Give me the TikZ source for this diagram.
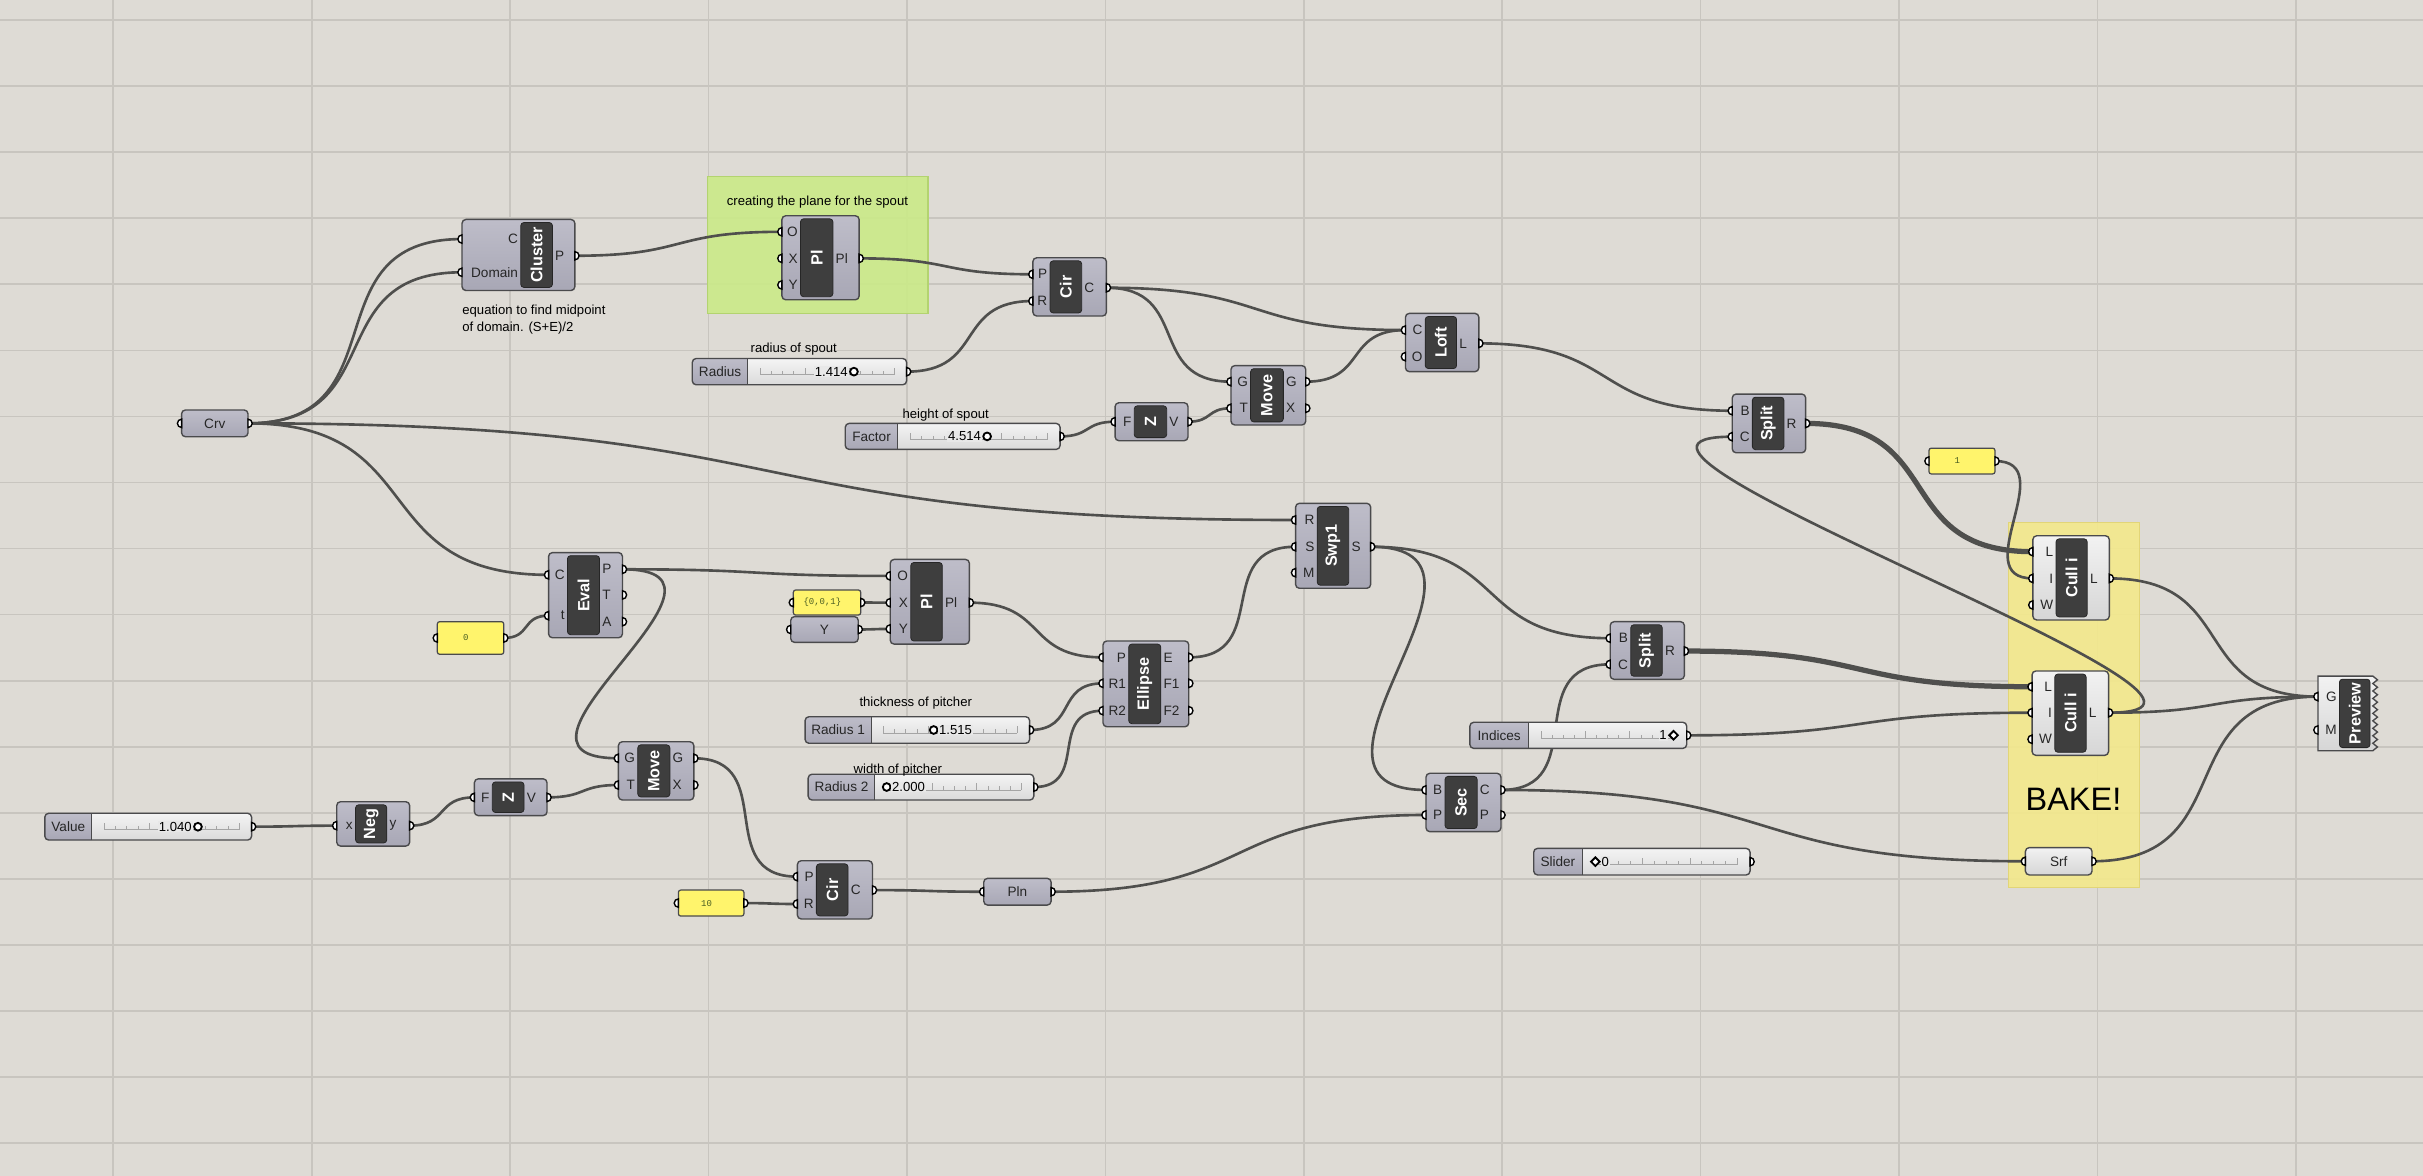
\documentclass[tikz,border=0pt]{standalone}
\usepackage{fontspec}
\setmainfont{Liberation Sans}
\newfontfamily\pmono{Liberation Mono}
\usetikzlibrary{fit}
\definecolor{canvas}{HTML}{DEDBD5}
\definecolor{gridc}{HTML}{C8C5BF}
\definecolor{compTop}{HTML}{BEBDC9}
\definecolor{compBot}{HTML}{A8A7B5}
\definecolor{compBorder}{HTML}{4A4A4C}
\definecolor{barFill}{HTML}{3E3E3E}
\definecolor{barBorder}{HTML}{262626}
\definecolor{whTop}{HTML}{F2F2F2}
\definecolor{whBot}{HTML}{D6D6D6}
\definecolor{trTop}{HTML}{F4F4F4}
\definecolor{trBot}{HTML}{DADADA}
\definecolor{trMid}{HTML}{E8E8E8}
\definecolor{panelY}{HTML}{FFF46C}
\definecolor{panelTxt}{HTML}{4A5E22}
\definecolor{grpGreen}{HTML}{CBEA88}
\definecolor{grpGreenB}{HTML}{B3D370}
\definecolor{grpYellow}{HTML}{F4E98B}
\definecolor{grpYellowB}{HTML}{E2D577}
\definecolor{wirec}{HTML}{4F4F4D}
\definecolor{tickc}{HTML}{A5A5A5}
\pgfdeclarelayer{back}
\pgfdeclarelayer{wires}
\pgfsetlayers{back,wires,main}
\newcommand\gfs[1]{\fontsize{#1}{#1}\selectfont}
% component: name, x1, y1, x2, y2, bar x1, bar x2, title, style
\newcommand\gcomp[9]{%
  \node[#9, fit={(#2,#3)(#4,#5)}] (#1) {};
  \node[gbar, fit={(#6,{#3+2})(#7,{#5-2})}] (#1-bar) {};
  \node[gttl] (#1-ttl) at (#1-bar.center) {#8};}
\newcommand\pin[4]{%
  \coordinate (#1-#2) at (#1.west |- 0,#4);
  \node[plbl, anchor=east, xshift=-1.6pt] (#1-#2-lab) at (#1-bar.west |- 0,#4) {#3};
  \gL{#1-#2}}
\newcommand\pout[4]{%
  \coordinate (#1-#2) at (#1.east |- 0,#4);
  \node[plbl, anchor=west, xshift=1.6pt] (#1-#2-lab) at (#1-bar.east |- 0,#4) {#3};
  \gR{#1-#2}}
\newcommand\gL[1]{\filldraw[grip] (#1) ++(0,-2.7) arc[start angle=270,end angle=90,radius=2.7] -- cycle;}
\newcommand\gR[1]{\filldraw[grip] (#1) ++(0,-2.7) arc[start angle=270,end angle=450,radius=2.7] -- cycle;}
\newcommand\gparam[7]{%
  \node[#7, fit={(#2,#3)(#4,#5)}] (#1) {};
  \node[plbl] (#1-txt) at (#1.center) {#6};
  \coordinate (#1-in) at (#1.west);
  \coordinate (#1-out) at (#1.east);
  \gL{#1-in}\gR{#1-out}}
\newcommand\gpanel[6]{%
  \node[gpan, fit={(#2,#3)(#4,#5)}] (#1) {};
  \node[pantxt, xshift=-3pt] (#1-txt) at (#1.center) {#6};
  \coordinate (#1-in) at (#1.west);
  \coordinate (#1-out) at (#1.east);
  \gL{#1-in}\gR{#1-out}}
\newcommand\gslider[7]{%
  \node[gtrack, fit={(#2,#3)(#4,#5)}] (#1) {};
  \begin{scope}
    \clip (#2-2,#3-2) rectangle (#6,#5+2);
    \shade[top color=compTop, bottom color=compBot, rounded corners=2.5pt] (#2,#3) rectangle (#4,#5);
  \end{scope}
  \draw[compBorder, line width=0.9pt, rounded corners=2.5pt] (#2,#3) rectangle (#4,#5);
  \draw[compBorder, line width=0.7pt] (#6,#3) -- (#6,#5);
  \node[plbl] (#1-lab) at ({(#2+#6)/2},{(#3+#5)/2}) {#7};
  \draw[tickc, line width=0.5pt] ({#6+8},{(#3+#5)/2+2}) -- ({#4-8},{(#3+#5)/2+2});
  \foreach \k in {0,...,12} {\draw[tickc, line width=0.5pt] ({#6+8+\k*(#4-#6-16)/12},{(#3+#5)/2+2}) -- ++(0,-2.5);}
  \foreach \k in {0,4,8,12} {\draw[tickc, line width=0.5pt] ({#6+8+\k*(#4-#6-16)/12},{(#3+#5)/2+2}) -- ++(0,-4.5);}
  \coordinate (#1-out) at (#1.east);
  \gR{#1-out}}
\newcommand\gdiamond[1]{\draw[mk] (#1) ++(0,-2.8) -- ++(2.8,2.8) -- ++(-2.8,2.8) -- ++(-2.8,-2.8) -- cycle;}
\begin{document}
\begin{tikzpicture}[x=1pt,y=-1pt,
  gcompS/.style={draw=compBorder, line width=0.9pt, rounded corners=2.5pt, top color=compTop, bottom color=compBot, inner sep=0pt, outer sep=0pt},
  gcompW/.style={draw=compBorder, line width=0.9pt, rounded corners=2.5pt, top color=whTop, bottom color=whBot, inner sep=0pt, outer sep=0pt},
  gbar/.style={draw=barBorder, line width=0.5pt, fill=barFill, rounded corners=2pt, inner sep=0pt, outer sep=0pt},
  gttl/.style={text=white, font=\gfs{10.5}\bfseries, rotate=90, inner sep=0pt},
  plbl/.style={font=\gfs{8.8}, text=black!85, inner sep=0pt},
  gpan/.style={draw=compBorder, line width=0.8pt, fill=panelY, rounded corners=1.5pt, inner sep=0pt, outer sep=0pt},
  pantxt/.style={font=\pmono\gfs{5.8}, text=panelTxt, inner sep=0pt},
  gtrack/.style={draw=none, top color=trTop, bottom color=trBot, rounded corners=2.5pt, inner sep=0pt, outer sep=0pt},
  grip/.style={fill=white, draw=black, line width=0.9pt},
  wire/.style={draw=wirec, line width=1.7pt, line cap=round, out=0, in=180, looseness=1.4},
  wireT/.style={wire, line width=3.4pt},
  mk/.style={draw=black, line width=1.2pt, fill=white},
  vtxt/.style={font=\gfs{8.5}, inner sep=0.5pt, fill=trMid},
  ann/.style={font=\gfs{8.5}, inner sep=0pt}]
\useasboundingbox (0,0) rectangle (1568,761);
\begin{pgfonlayer}{back}
  \fill[canvas] (0,0) rectangle (1568,761);
  \foreach \gx in {0,...,11} {\draw[gridc, line width=1.1pt] ({73.3+128.4*\gx},0) -- ({73.3+128.4*\gx},761);}
  \foreach \gy in {0,...,17} {\draw[gridc, line width=1.1pt] (0,{13+42.75*\gy}) -- (1568,{13+42.75*\gy});}
  \node[fill=grpGreen, draw=grpGreenB, line width=0.8pt, fill opacity=0.9, inner sep=0pt, outer sep=0pt, fit={(457.9,114.3)(600.5,202.8)}] (grpPlane) {};
  \node[fill=grpYellow, draw=grpYellowB, line width=0.8pt, fill opacity=0.9, inner sep=0pt, outer sep=0pt, fit={(1299.7,338)(1384.7,574.2)}] (grpBake) {};
\end{pgfonlayer}

% group texts and annotations
\node[ann] (txtPlane) at (529,130.5) {creating the plane for the spout};
\node[font=\gfs{21}, inner sep=0pt] (txtBake) at (1341.8,517) {BAKE!};
\node[ann, anchor=west] (txtEq1) at (299,201) {equation to find midpoint};
\node[ann, anchor=west] (txtEq2) at (299,212.5) {of domain. (S+E)/2};

% parameters
\gparam{crv}{117.5}{265.3}{160.5}{282.6}{Crv}{gcompS}
\gparam{ypar}{511.7}{399}{555.4}{415.7}{Y}{gcompS}
\gparam{pln}{636.6}{568.4}{680.2}{585.7}{Pln}{gcompS}
\gparam{srf}{1310.7}{548.5}{1353.8}{566.2}{Srf}{gcompW}

% panels
\gpanel{pone}{1248.3}{290}{1291}{306.7}{1}
\gpanel{pzero}{283}{402.3}{326}{423.4}{0}
\gpanel{pvec}{513.4}{381.8}{557}{398}{\{0,0,1\}}
\gpanel{pten}{439}{576}{481.4}{592.8}{10}

% sliders
\gslider{radius}{448}{232}{586.7}{249}{484}{Radius}
\node[vtxt, anchor=east] (radius-val) at (549.3,240.5) {1.414};
\draw[mk] (552.6,240.5) circle (2.5);
\node[ann] (lbl-radius) at (513.7,225.9) {radius of spout};

\gslider{factor}{547}{274}{686}{290.8}{581}{Factor}
\node[vtxt, anchor=east] (factor-val) at (635.5,282.4) {4.514};
\draw[mk] (638.8,282.4) circle (2.5);
\node[ann] (lbl-factor) at (612,268.6) {height of spout};

\gslider{rad1}{521}{463.8}{666.3}{481}{563.7}{Radius 1}
\draw[mk] (604.2,472.4) circle (2.5);
\node[vtxt, anchor=west] (rad1-val) at (607,472.4) {1.515};
\node[ann] (lbl-thick) at (592.6,454.7) {thickness of pitcher};

\gslider{rad2}{523}{501}{669}{517.7}{566.2}{Radius 2}
\draw[mk] (573.8,509.3) circle (2.5);
\node[vtxt, anchor=west] (rad2-val) at (576.6,509.3) {2.000};
\node[ann] (lbl-width) at (581,498.3) {width of pitcher};

\gslider{value}{29}{526.3}{162.8}{543.6}{59.4}{Value}
\node[vtxt, anchor=east] (value-val) at (124.8,535) {1.040};
\draw[mk] (128.1,535) circle (2.5);

\gslider{indices}{951.2}{467.4}{1091.5}{484.3}{989.2}{Indices}
\node[vtxt, anchor=east] (indices-val) at (1079.3,475.8) {1};
\coordinate (indices-mk) at (1083,475.8);
\gdiamond{indices-mk}

\gslider{slider}{992.5}{549}{1132.5}{566.2}{1023.8}{Slider}
\coordinate (slider-mk) at (1032.4,557.6);
\gdiamond{slider-mk}
\node[vtxt, anchor=west] (slider-val) at (1035.8,557.6) {0};

% components
\gcomp{cluster}{299}{142}{372}{188}{337}{357.5}{Cluster}{gcompS}
\pin{cluster}{C}{C}{154.7}
\pin{cluster}{D}{Domain}{176.2}
\pout{cluster}{P}{P}{165.5}

\gcomp{pltop}{506}{139.6}{556}{194}{518}{539}{Pl}{gcompS}
\pin{pltop}{O}{O}{150}
\pin{pltop}{X}{X}{167.2}
\pin{pltop}{Y}{Y}{184.4}
\pout{pltop}{Pl}{Pl}{167.2}

\gcomp{cirtop}{668.4}{166.8}{716}{204.5}{679.5}{700}{Cir}{gcompS}
\pin{cirtop}{P}{P}{177.5}
\pin{cirtop}{R}{R}{194.8}
\pout{cirtop}{C}{C}{186.2}

\gcomp{loft}{909.5}{202.8}{957}{240.5}{922.3}{942.6}{Loft}{gcompS}
\pin{loft}{C}{C}{213.6}
\pin{loft}{O}{O}{230.8}
\pout{loft}{L}{L}{222.2}

\gcomp{movetop}{796.6}{236.6}{845}{275}{809.3}{830.5}{Move}{gcompS}
\pin{movetop}{G}{G}{247}
\pin{movetop}{T}{T}{264.2}
\pout{movetop}{Go}{G}{247}
\pout{movetop}{X}{X}{264.2}

\gcomp{ztop}{721.6}{260.6}{768.8}{285.2}{734}{755}{Z}{gcompS}
\pin{ztop}{F}{F}{272.9}
\pout{ztop}{V}{V}{272.9}

\gcomp{splittop}{1121}{255}{1168.5}{293}{1134}{1154.4}{Split}{gcompS}
\pin{splittop}{B}{B}{265.8}
\pin{splittop}{C}{C}{282.6}
\pout{splittop}{R}{R}{274}

\gcomp{swp}{838.4}{325.7}{887}{380.7}{852.4}{872.8}{Swp1}{gcompS}
\pin{swp}{R}{R}{336.5}
\pin{swp}{S}{S}{353.8}
\pin{swp}{M}{M}{370.6}
\pout{swp}{So}{S}{353.8}

\gcomp{cullA}{1315.5}{346.7}{1365}{401.2}{1330.5}{1350.7}{Cull i}{gcompW}
\pin{cullA}{L}{L}{357}
\pin{cullA}{I}{I}{374.3}
\pin{cullA}{W}{W}{391.5}
\pout{cullA}{Lo}{L}{374.3}

\gcomp{cullB}{1315}{434.2}{1364.5}{488.8}{1329.7}{1350}{Cull i}{gcompW}
\pin{cullB}{L}{L}{444.4}
\pin{cullB}{I}{I}{461.2}
\pin{cullB}{W}{W}{478.4}
\pout{cullB}{Lo}{L}{461.2}

\gcomp{eval}{355}{357.6}{402.8}{412.7}{367.2}{388}{Eval}{gcompS}
\pin{eval}{C}{C}{372}
\pin{eval}{t}{t}{398.4}
\pout{eval}{P}{P}{368.4}
\pout{eval}{T}{T}{385}
\pout{eval}{A}{A}{402.3}

\gcomp{plbot}{576.1}{362}{627.3}{416.8}{589.4}{609.8}{Pl}{gcompS}
\pin{plbot}{O}{O}{372.7}
\pin{plbot}{X}{X}{390}
\pin{plbot}{Y}{Y}{407}
\pout{plbot}{Pl}{Pl}{390}

\gcomp{ellipse}{713.8}{414.8}{769.3}{470.3}{730.4}{751.2}{Ellipse}{gcompS}
\pin{ellipse}{P}{P}{425.4}
\pin{ellipse}{R1}{R1}{442.2}
\pin{ellipse}{R2}{R2}{459.9}
\pout{ellipse}{E}{E}{425.4}
\pout{ellipse}{F1}{F1}{442.2}
\pout{ellipse}{F2}{F2}{459.9}

\gcomp{movebot}{400.2}{480}{449}{517.7}{412.7}{433.5}{Move}{gcompS}
\pin{movebot}{G}{G}{490.7}
\pin{movebot}{T}{T}{508}
\pout{movebot}{Go}{G}{490.7}
\pout{movebot}{X}{X}{508}

\gcomp{zbot}{307}{504}{354}{527.8}{318.6}{339.1}{Z}{gcompS}
\pin{zbot}{F}{F}{516}
\pout{zbot}{V}{V}{516}

\gcomp{neg}{217.9}{518.8}{265.1}{547.5}{230.1}{250.3}{Neg}{gcompS}
\pin{neg}{x}{x}{534.3}
\pout{neg}{y}{y}{534.3}

\gcomp{cirbot}{516}{557}{564.6}{594.7}{528.3}{548.8}{Cir}{gcompS}
\pin{cirbot}{P}{P}{567.3}
\pin{cirbot}{R}{R}{585}
\pout{cirbot}{C}{C}{576}

\gcomp{sec}{922.8}{500.4}{971.3}{538.2}{935.1}{955.9}{Sec}{gcompS}
\pin{sec}{B}{B}{511.2}
\pin{sec}{P}{P}{527.4}
\pout{sec}{C}{C}{511.2}
\pout{sec}{Po}{P}{527.4}

\gcomp{splitbot}{1042}{402.3}{1090}{439.6}{1055.3}{1075.7}{Split}{gcompS}
\pin{splitbot}{B}{B}{413}
\pin{splitbot}{C}{C}{429.9}
\pout{splitbot}{R}{R}{421.3}

% preview with zigzag edge
\node[inner sep=0pt, outer sep=0pt, fit={(1500,437.5)(1537,485.8)}] (preview) {};
\shadedraw[draw=compBorder, line width=0.9pt, top color=whTop, bottom color=whBot]
  (1500,437.5) -- (1535.5,437.5) foreach \k in {1,...,20} { -- ({1535.5+3*mod(\k,2)},{437.5+\k*2.415}) } -- (1500,485.8) -- cycle;
\node[gbar, fit={(1513.9,439.5)(1533.7,483.8)}] (preview-bar) {};
\node[gttl] (preview-ttl) at (preview-bar.center) {Preview};
\pin{preview}{G}{G}{450.8}
\pin{preview}{M}{M}{472.4}

% wires
\begin{pgfonlayer}{wires}
\draw[wire] (crv-out) to (cluster-C);
\draw[wire] (crv-out) to (cluster-D);
\draw[wire] (crv-out) to (swp-R);
\draw[wire] (crv-out) to (eval-C);
\draw[wire] (cluster-P) to (pltop-O);
\draw[wire] (pltop-Pl) to (cirtop-P);
\draw[wire] (radius-out) to (cirtop-R);
\draw[wire] (cirtop-C) to (loft-C);
\draw[wire] (cirtop-C) to (movetop-G);
\draw[wire] (factor-out) to (ztop-F);
\draw[wire] (ztop-V) to (movetop-T);
\draw[wire] (movetop-Go) to (loft-C);
\draw[wire] (loft-L) to (splittop-B);
\draw[wireT] (splittop-R) to (cullA-L);
\draw[wire] (pone-out) to (cullA-I);
\draw[wire] (cullA-Lo) to (preview-G);
\draw[wire] (cullB-Lo) to (preview-G);
\draw[wire] (srf-out) to (preview-G);
\draw[wire, looseness=1.15] (cullB-Lo) to (splittop-C);
\draw[wire] (eval-P) to (plbot-O);
\draw[wire, looseness=2.0] (eval-P) to (movebot-G);
\draw[wire] (pzero-out) to (eval-t);
\draw[wire] (pvec-out) to (plbot-X);
\draw[wire] (ypar-out) to (plbot-Y);
\draw[wire] (plbot-Pl) to (ellipse-P);
\draw[wire] (rad1-out) to (ellipse-R1);
\draw[wire] (rad2-out) to (ellipse-R2);
\draw[wire] (ellipse-E) to (swp-S);
\draw[wire] (swp-So) to (splitbot-B);
\draw[wire, looseness=1.65] (swp-So) to (sec-B);
\draw[wire] (value-out) to (neg-x);
\draw[wire] (neg-y) to (zbot-F);
\draw[wire] (zbot-V) to (movebot-T);
\draw[wire] (movebot-Go) to (cirbot-P);
\draw[wire] (pten-out) to (cirbot-R);
\draw[wire] (cirbot-C) to (pln-in);
\draw[wire] (pln-out) to (sec-P);
\draw[wire] (sec-C) to (splitbot-C);
\draw[wire] (sec-C) to (srf-in);
\draw[wireT] (splitbot-R) to (cullB-L);
\draw[wire] (indices-out) to (cullB-I);
\end{pgfonlayer}
\end{tikzpicture}
\end{document}
